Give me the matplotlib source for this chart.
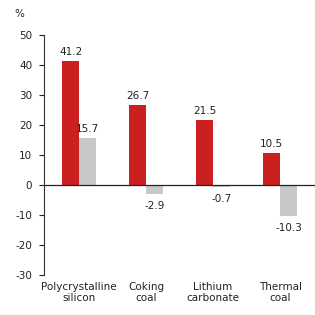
import matplotlib
matplotlib.use("Agg")
import matplotlib.pyplot as plt
import numpy as np

# datos
categorias = ["Polycrystalline\nsilicon", "Coking\ncoal", "Lithium\ncarbonate", "Thermal\ncoal"]
serie_roja = [41.2, 26.7, 21.5, 10.5]
serie_gris = [15.7, -2.9, -0.7, -10.3]
yticks = [50, 40, 30, 20, 10, 0, -10, -20, -30]

ROJO = "#CC1F1F"
GRIS = "#C8C8C8"

plt.rcParams['font.family'] = ['DejaVu Sans']
plt.rcParams['axes.unicode_minus'] = False

fig = plt.figure(figsize=(3.15, 3.15), dpi=100)
ax = fig.add_axes([0.14, 0.127, 0.86, 0.762])

x = np.arange(len(categorias))
w = 0.25
ax.bar(x - w / 2, serie_roja, w, color=ROJO)
ax.bar(x + w / 2, serie_gris, w, color=GRIS)

# etiquetas de valor
for xi, v in zip(x - w / 2, serie_roja):
    ax.annotate(f"{v}", (xi, v), xytext=(0, 3), textcoords="offset points",
                ha="center", va="bottom", fontsize=7.5, color="#222222")
for xi, v in zip(x + w / 2, serie_gris):
    if v >= 0:
        ax.annotate(f"{v}", (xi, v), xytext=(0, 3), textcoords="offset points",
                    ha="center", va="bottom", fontsize=7.5, color="#222222")
    else:
        ax.annotate(f"{v}", (xi, v), xytext=(0, -5), textcoords="offset points",
                    ha="center", va="top", fontsize=7.5, color="#222222")

ax.axhline(0, color="#222222", lw=0.9)

ax.set_xlim(-0.52, 3.52)
ax.set_ylim(-30, 50)
ax.set_yticks(yticks)
ax.set_yticklabels([str(t) for t in yticks])
ax.set_xticks(x)
ax.set_xticklabels(categorias, fontsize=7.5, linespacing=1.1, color="#222222")
ax.tick_params(axis="x", length=0, pad=5)
ax.tick_params(axis="y", length=3.5, width=0.8, pad=5, labelsize=7.5, colors="#222222")

for s in ["top", "right", "bottom"]:
    ax.spines[s].set_visible(False)
ax.spines["left"].set_color("#333333")
ax.spines["left"].set_linewidth(0.8)

fig.text(0.045, 0.955, "%", fontsize=7.5, ha="left", va="center", color="#222222")

fig.savefig("out.png", dpi=100)
